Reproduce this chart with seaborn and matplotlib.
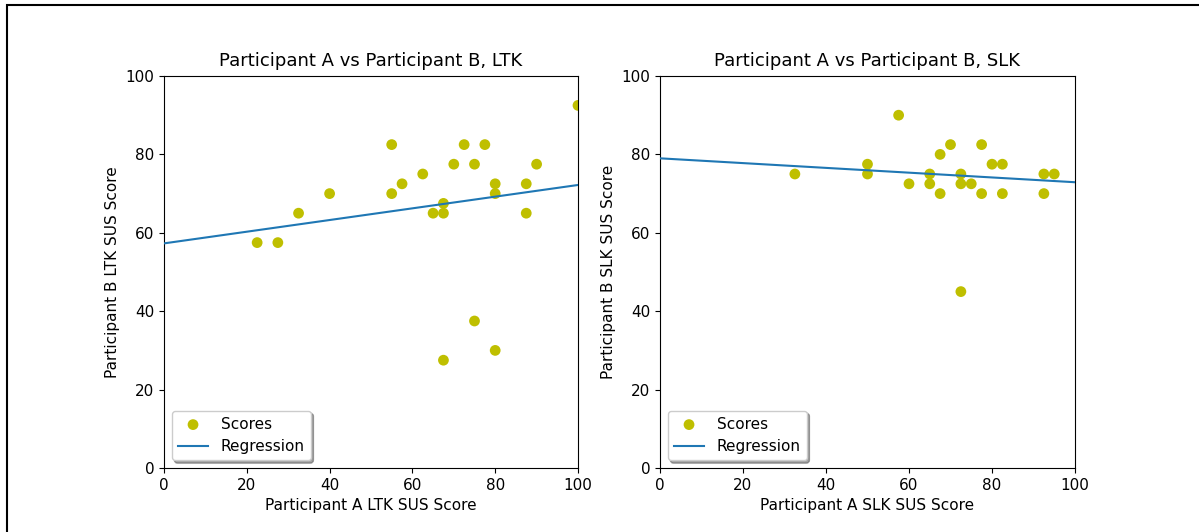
import numpy as np
import pandas as pd
import matplotlib
matplotlib.use("Agg")
import matplotlib.pyplot as plt
import seaborn as sns
from matplotlib.patches import Rectangle

# LTK data
ltk_a = [22.5, 27.5, 32.5, 40, 55, 55, 57.5, 62.5, 65, 67.5, 67.5, 70, 72.5, 75, 77.5,
         80, 80, 87.5, 87.5, 90, 100, 75, 80, 67.5]
ltk_b = [57.5, 57.5, 65, 70, 82.5, 70, 72.5, 75, 65, 65, 67.5, 77.5, 82.5, 77.5, 82.5,
         72.5, 70, 72.5, 65, 77.5, 92.5, 37.5, 30, 27.5]

# SLK data
slk_a = [32.5, 50, 50, 57.5, 60, 65, 65, 67.5, 67.5, 70, 72.5, 72.5, 72.5, 75, 77.5,
         77.5, 80, 82.5, 82.5, 92.5, 92.5, 95]
slk_b = [75, 77.5, 75, 90, 72.5, 75, 72.5, 80, 70, 82.5, 75, 72.5, 45, 72.5, 82.5,
         70, 77.5, 77.5, 70, 75, 70, 75]

# Regression lines (intercept, slope)
ltk_reg = (57.3, 0.149)
slk_reg = (79.0, -0.061)

titles = ["Participant A vs Participant B, LTK", "Participant A vs Participant B, SLK"]
xlabels = ["Participant A LTK SUS Score", "Participant A SLK SUS Score"]
ylabels = ["Participant B LTK SUS Score", "Participant B SLK SUS Score"]
ticks = [0, 20, 40, 60, 80, 100]

fig = plt.figure(figsize=(11.99, 5.32), dpi=100)
positions = [[164/1199, 1-468/532, 414/1199, 392/532],
             [660/1199, 1-468/532, 415/1199, 392/532]]

datasets = [(ltk_a, ltk_b, ltk_reg), (slk_a, slk_b, slk_reg)]
for i, (xa, yb, (intercept, slope)) in enumerate(datasets):
    ax = fig.add_axes(positions[i])
    df = pd.DataFrame({"a": xa, "b": yb})
    sns.scatterplot(data=df, x="a", y="b", ax=ax, color="y", s=60,
                    edgecolor="none", label="Scores", zorder=2)
    xs = np.array([0.0, 100.0])
    reg = pd.DataFrame({"x": xs, "y": intercept + slope * xs})
    sns.lineplot(data=reg, x="x", y="y", ax=ax, color="#1f77b4", lw=1.5,
                 label="Regression", zorder=3)
    ax.set_xlim(0, 100)
    ax.set_ylim(0, 100)
    ax.set_xticks(ticks)
    ax.set_yticks(ticks)
    ax.set_title(titles[i], fontsize=13, pad=7)
    ax.set_xlabel(xlabels[i], fontsize=11)
    ax.set_ylabel(ylabels[i], fontsize=11)
    ax.tick_params(labelsize=11)
    ax.legend(loc="lower left", shadow=True, fontsize=11)

fig.patches.append(Rectangle((7/1199, -0.1), 2, 1 - 5/532 + 0.1,
                             transform=fig.transFigure, fill=False,
                             edgecolor="black", lw=1.5))
fig.savefig("out.png", dpi=100)
